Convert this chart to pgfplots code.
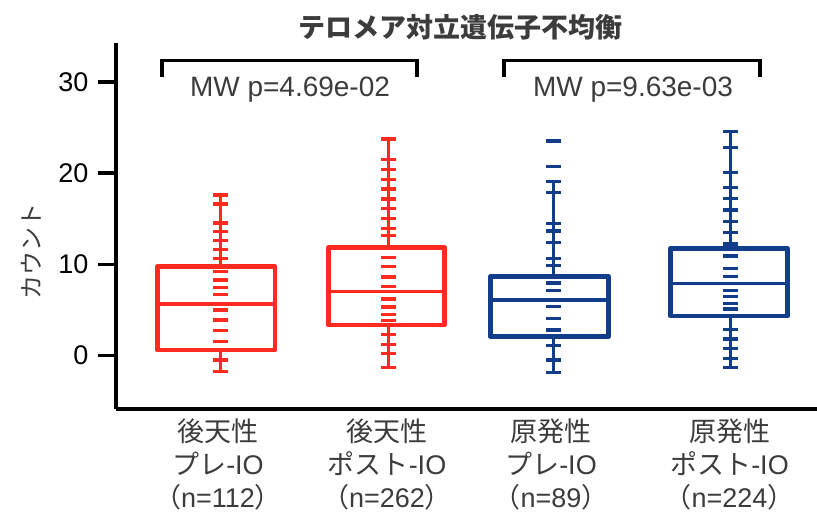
\documentclass[border=0pt]{standalone}
\usepackage{fontspec}
\setmainfont{Liberation Sans}
\newfontfamily\jp{Noto Sans CJK JP}
\usepackage{pgfplots}
\pgfplotsset{compat=1.18}

\definecolor{acqred}{HTML}{FF2A20}
\definecolor{prinblue}{HTML}{123D8B}
\definecolor{txtgray}{HTML}{3C3C3C}

% box: quartile frame, median bar and whiskers drawn from the summary values
% #1 colour, #2 left, #3 right, #4 centre, #5 lower whisker, #6 Q1, #7 median, #8 Q3, #9 upper whisker
\newcommand\summarybox[9]{%
  \addplot[#1, line width=4.5pt, line join=round]
    coordinates {(#2,#6) (#3,#6) (#3,#8) (#2,#8)} -- cycle;
  \addplot[#1, line width=3.2pt] coordinates {(#2,#7) (#3,#7)};
  \addplot[#1, line width=3pt] coordinates {(#4,#8) (#4,#9)};
  \addplot[#1, line width=3pt] coordinates {(#4,#6) (#4,#5)};
}

\begin{document}
\begin{tikzpicture}
\path[use as bounding box] (0,0) rectangle (817pt,513pt);
\begin{axis}[
  at={(116pt,104pt)}, anchor=south west,
  scale only axis, width=701pt, height=366.3pt,
  xmin=116, xmax=817, ymin=-5.87, ymax=34.3,
  axis x line*=bottom, axis y line*=left,
  axis line style={line width=3.5pt, black},
  ytick={0,10,20,30},
  tick align=outside, major tick length=18pt,
  ytick style={line width=3.5pt, black},
  xtick style={draw=none},
  xtick={218,387,551,729.5},
  xticklabels={
    {{\jp 後天性}\\{\jp プレ}-IO\\{\jp （}n=112{\jp ）}},
    {{\jp 後天性}\\{\jp ポスト}-IO\\{\jp （}n=262{\jp ）}},
    {{\jp 原発性}\\{\jp プレ}-IO\\{\jp （}n=89{\jp ）}},
    {{\jp 原発性}\\{\jp ポスト}-IO\\{\jp （}n=224{\jp ）}}},
  xticklabel style={align=center, text=txtgray,
    font=\fontsize{27}{33}\selectfont, yshift=12pt},
  yticklabel style={font=\fontsize{27}{32}\selectfont, xshift=-6pt},
  /pgf/number format/assume math mode=true,
  ylabel={\jp カウント},
  ylabel style={at={(axis description cs:-0.121,0.431)}, anchor=center,
    text=txtgray, font=\fontsize{24}{28}\selectfont},
  title={\jp\bfseries テロメア対立遺伝子不均衡},
  title style={at={(axis description cs:0.491,1.026)}, anchor=center,
    text=txtgray, font=\fontsize{27}{32}\selectfont},
  clip=false,
]

% acquired pre-IO / post-IO, primary pre-IO / post-IO
\summarybox{acqred}{157.3}{275}{220}{-1.78}{0.60}{5.65}{9.74}{17.60}
\summarybox{acqred}{328.3}{444.7}{388}{-1.34}{3.34}{7.00}{11.82}{23.74}
\summarybox{prinblue}{490.3}{608.7}{553}{-1.89}{2.06}{6.09}{8.64}{19.06}
\summarybox{prinblue}{670.3}{787.7}{730}{-1.34}{4.33}{7.92}{11.75}{24.54}

% individual observations as short dashes
\addplot[only marks, mark=-, mark size=7.5pt, acqred,
  mark options={line width=3.5pt}] coordinates {
  (220,17.60) (220,16.61) (220,14.50) (220,13.57) (220,12.59) (220,11.64)
  (220,10.61) (220,9.19) (220,8.28) (220,7.48) (220,6.71) (220,4.99)
  (220,3.89) (220,2.72) (220,1.51) (220,-0.49) (220,-1.78)};
\addplot[only marks, mark=-, mark size=7.5pt, acqred,
  mark options={line width=3.5pt}] coordinates {
  (388,23.74) (388,21.51) (388,20.42) (388,19.32) (388,18.26) (388,17.16)
  (388,16.14) (388,15.04) (388,13.95) (388,13.14) (388,10.77) (388,9.74)
  (388,8.61) (388,7.54) (388,6.20) (388,5.32) (388,4.52) (388,3.82)
  (388,2.32) (388,1.23) (388,0.20) (388,-1.34)};
\addplot[only marks, mark=-, mark size=7.5pt, prinblue,
  mark options={line width=3.5pt}] coordinates {
  (553,23.52) (553,20.70) (553,19.06) (553,17.85) (553,14.45) (553,13.65)
  (553,12.41) (553,10.66) (553,9.85) (553,7.92) (553,7.15) (553,5.35)
  (553,4.08) (553,2.80) (553,1.07) (553,-0.49) (553,-1.89)};
\addplot[only marks, mark=-, mark size=7.5pt, prinblue,
  mark options={line width=3.5pt}] coordinates {
  (730,24.54) (730,22.83) (730,20.04) (730,18.44) (730,17.19)
  (730,15.95) (730,14.71) (730,13.46) (730,12.23) (730,10.91)
  (730,9.56) (730,8.64) (730,7.11) (730,6.45) (730,5.72)
  (730,5.07) (730,2.87) (730,1.78) (730,0.75) (730,-0.31)
  (730,-1.34)};

% significance brackets
\draw[line width=3.5pt, line join=miter]
  (axis cs:162,30.57) -- (axis cs:162,32.32) -- (axis cs:417,32.32) -- (axis cs:417,30.57);
\draw[line width=3.5pt, line join=miter]
  (axis cs:504,30.57) -- (axis cs:504,32.32) -- (axis cs:760,32.32) -- (axis cs:760,30.57);
\node[anchor=base, text=txtgray, font=\fontsize{28}{32}\selectfont, inner sep=0pt]
  at (axis cs:290,28.45) {MW p=4.69e-02};
\node[anchor=base, text=txtgray, font=\fontsize{28}{32}\selectfont, inner sep=0pt]
  at (axis cs:633,28.45) {MW p=9.63e-03};
\end{axis}
\end{tikzpicture}
\end{document}
